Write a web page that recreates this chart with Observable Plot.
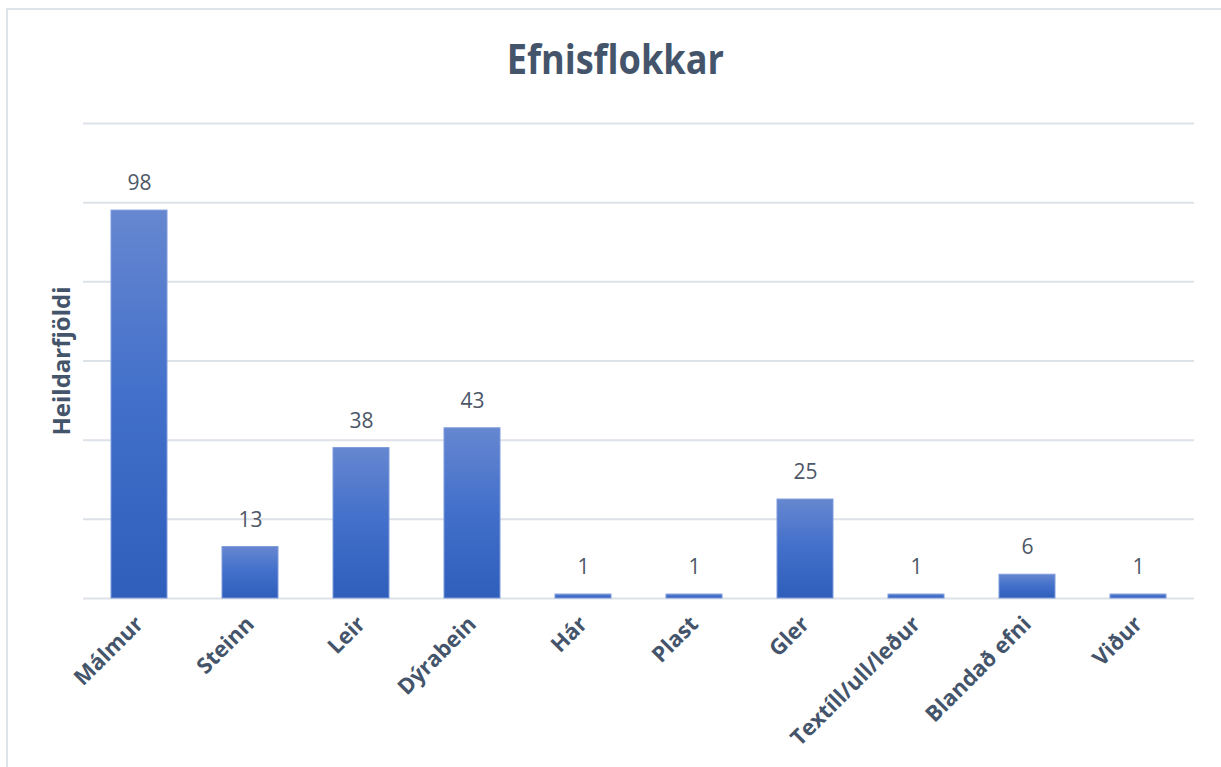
<!DOCTYPE html>
<html>
<head>
<meta charset="utf-8">
<script src="https://cdn.jsdelivr.net/npm/d3@7"></script>
<script src="https://cdn.jsdelivr.net/npm/@observablehq/plot@0.6"></script>
<style>
  html, body { margin: 0; padding: 0; background: #fff; }
  #wrap { position: relative; width: 1221px; height: 767px; overflow: hidden; font-family: "Open Sans", "Noto Sans", sans-serif; }
  #frame { position: absolute; left: 6px; top: 8px; width: 1240px; height: 800px; border-left: 2px solid #dfe3ea; border-top: 2px solid #dfe3ea; box-sizing: border-box; }
  #title { position: absolute; top: 37px; left: 0; width: 1230px; text-align: center; font-size: 42px; line-height: 42px; font-weight: 700; color: #44546a; }
  #title span { display: inline-block; transform: scaleX(0.86); }
  #chart { position: absolute; left: 0; top: 0; }
</style>
</head>
<body>
<div id="wrap">
  <div id="frame"></div>
  <div id="chart"></div>
  <div id="title"><span>Efnisflokkar</span></div>
</div>
<script>
const categories = ["Málmur", "Steinn", "Leir", "Dýrabein", "Hár", "Plast", "Gler", "Textíll/ull/leður", "Blandað efni", "Viður"];
const counts = [98, 13, 38, 43, 1, 1, 25, 1, 6, 1];
const gridValues = [0, 20, 40, 60, 80, 100, 120];
const yLabel = "Heildarfjöldi";

const data = categories.map((c, i) => ({category: c, count: counts[i]}));

const textColor = "#44546a";

const chart = Plot.plot({
  width: 1221,
  height: 767,
  marginLeft: 83,
  marginRight: 27,
  marginTop: 123,
  marginBottom: 169,
  style: {fontFamily: "'Open Sans', 'Noto Sans', sans-serif", background: "transparent"},
  x: {domain: categories, paddingInner: 0.5, paddingOuter: 0.25},
  y: {domain: [0, 120]},
  marks: [
    () => {
      const svg = d3.create("svg:defs");
      const g = svg.append("linearGradient").attr("id", "barGrad").attr("x1", 0).attr("y1", 0).attr("x2", 0).attr("y2", 1);
      g.append("stop").attr("offset", "0%").attr("stop-color", "#6687d0");
      g.append("stop").attr("offset", "50%").attr("stop-color", "#416fca");
      g.append("stop").attr("offset", "100%").attr("stop-color", "#2f5ebb");
      return svg.node();
    },
    Plot.ruleY(gridValues, {stroke: "#dde1e8", strokeWidth: 2}),
    Plot.barY(data, {x: "category", y: "count", fill: "url(#barGrad)", stroke: "#7e9bdb", strokeWidth: 1}),
    Plot.text(data, {x: "category", y: "count", text: d => String(d.count), dy: -27, fontSize: 21, fill: "#4d5768", lineAnchor: "middle"}),
    Plot.axisX({tickSize: 0, tickPadding: 22, tickRotate: -45, fontSize: 22, fontWeight: "bold", fill: textColor, label: null}),
    Plot.axisY({ticks: [], label: null}),
    Plot.text([yLabel], {frameAnchor: "left", dx: -21, rotate: -90, fontSize: 24, fontWeight: "bold", fill: textColor, textAnchor: "middle", lineAnchor: "middle"})
  ]
});
document.getElementById("chart").appendChild(chart);
</script>
</body>
</html>
